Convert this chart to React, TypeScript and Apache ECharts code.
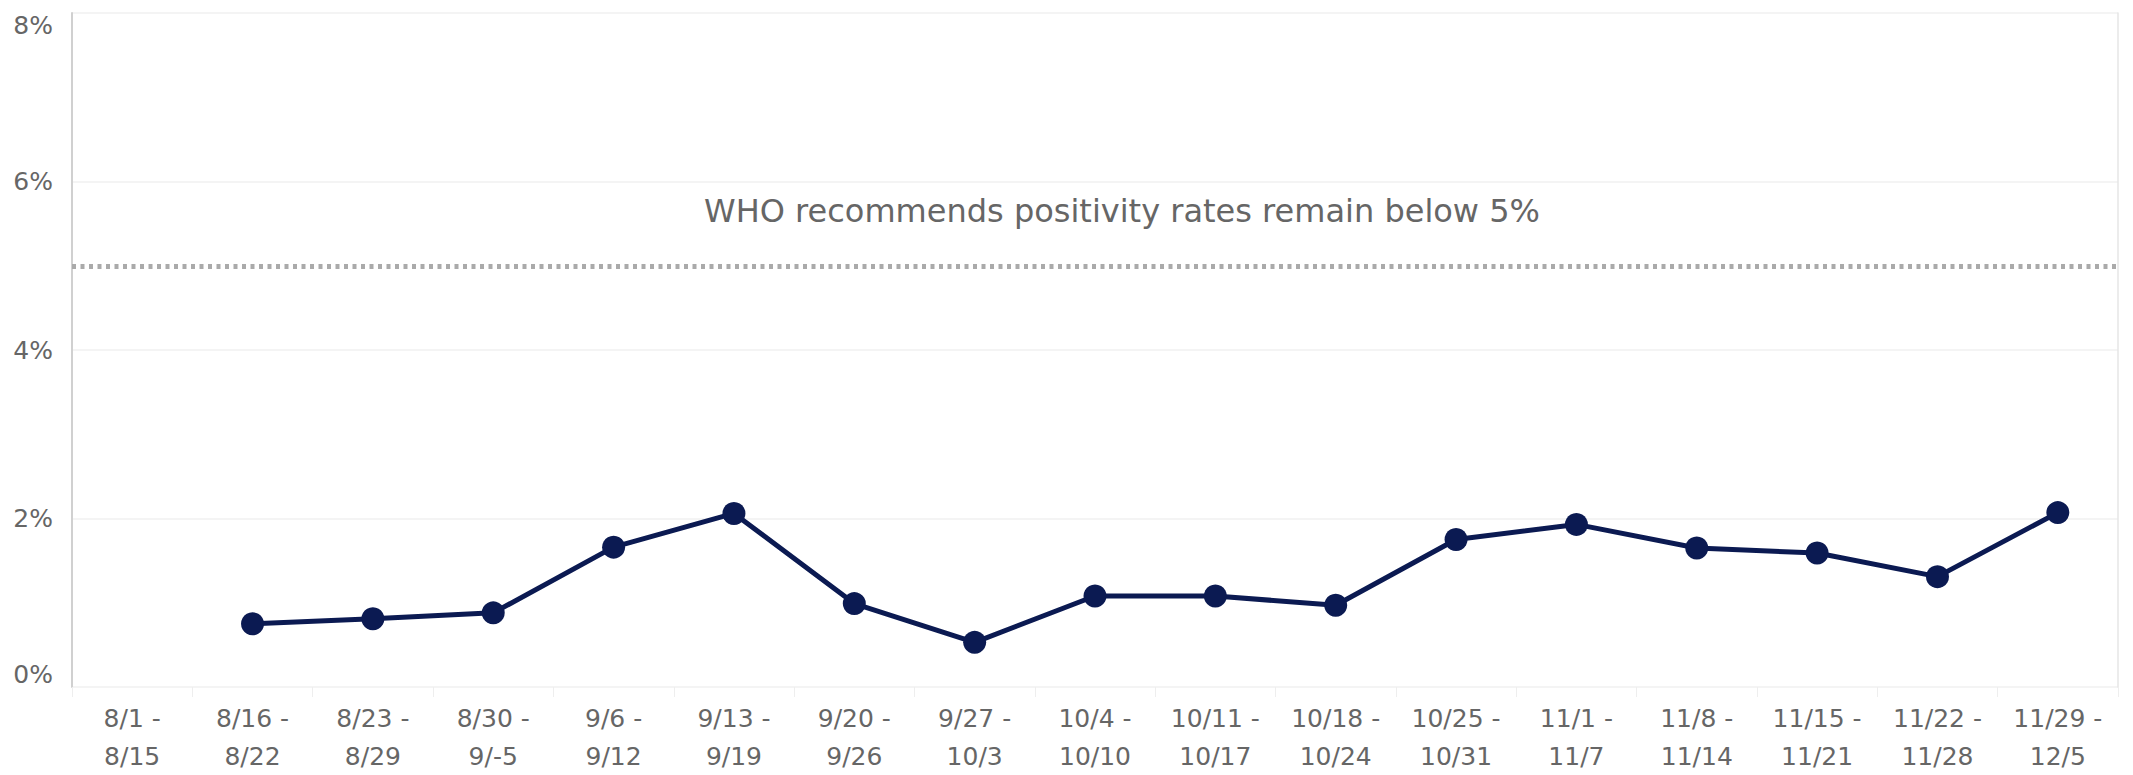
import React, { useEffect, useRef } from "react";
import * as echarts from "echarts";

const categories = [
  "8/1 -\n8/15", "8/16 -\n8/22", "8/23 -\n8/29", "8/30 -\n9/-5", "9/6 -\n9/12",
  "9/13 -\n9/19", "9/20 -\n9/26", "9/27 -\n10/3", "10/4 -\n10/10", "10/11 -\n10/17",
  "10/18 -\n10/24", "10/25 -\n10/31", "11/1 -\n11/7", "11/8 -\n11/14", "11/15 -\n11/21",
  "11/22 -\n11/28", "11/29 -\n12/5",
];
const positivity: (number | null)[] = [
  null, 0.75, 0.81, 0.88, 1.66, 2.06, 0.99, 0.53, 1.08, 1.08, 0.97, 1.75, 1.93, 1.65, 1.59, 1.31, 2.07,
];
const whoThreshold = 5;
const whoText = "WHO recommends positivity rates remain below 5%";

export default function App() {
  const ref = useRef<HTMLDivElement>(null);
  useEffect(() => {
    if (!ref.current) return;
    const chart = echarts.init(ref.current, null, { renderer: "svg" });
    chart.setOption({
      animation: false,
      backgroundColor: "#ffffff",
      textStyle: { fontFamily: "DejaVu Sans" },
      grid: { left: 72, right: 15, top: 13, bottom: 82 },
      xAxis: {
        type: "category",
        data: categories,
        boundaryGap: true,
        axisLine: { show: false },
        axisTick: { show: true, length: 10, lineStyle: { color: "#eeeeee", width: 1 } },
        axisLabel: {
          color: "#666666",
          fontSize: 25,
          lineHeight: 38,
          margin: 12,
          fontFamily: "DejaVu Sans",
        },
        splitLine: { show: false },
      },
      yAxis: [
        {
          type: "value",
          min: 0,
          max: 8,
          interval: 2,
          axisLine: { show: true, lineStyle: { color: "#d0d0d0", width: 2 } },
          axisTick: { show: false },
          axisLabel: {
            color: "#666666",
            fontSize: 25,
            margin: 19,
            formatter: "{value}%",
            fontFamily: "DejaVu Sans",
            verticalAlignMaxLabel: "top",
            verticalAlignMinLabel: "bottom",
          },
          splitLine: { show: true, lineStyle: { color: "#f0f0f0", width: 1.5 } },
        },
        {
          type: "value",
          min: 0,
          max: 8,
          interval: 2,
          position: "right",
          axisLine: { show: true, lineStyle: { color: "#e6e6e6", width: 1.5 } },
          axisTick: { show: false },
          axisLabel: { show: false },
          splitLine: { show: false },
        },
      ],
      series: [
        {
          type: "line",
          data: positivity,
          symbol: "circle",
          symbolSize: 23,
          connectNulls: false,
          lineStyle: { color: "#0b1a52", width: 5 },
          itemStyle: { color: "#0b1a52" },
          markLine: {
            silent: true,
            symbol: "none",
            label: { show: false },
            lineStyle: { color: "#aaaaaa", width: 5, type: [4, 4.5] },
            data: [{ yAxis: whoThreshold }],
          },
        },
      ],
      graphic: [
        {
          type: "text",
          x: 1122,
          y: 211,
          style: {
            text: whoText,
            fill: "#666666",
            fontSize: 32,
            fontFamily: "DejaVu Sans",
            align: "center",
            verticalAlign: "middle",
          },
        },
      ],
    });
    return () => chart.dispose();
  }, []);
  return (
    <div
      ref={ref}
      style={{ position: "fixed", left: 0, top: 0, width: 2133, height: 775 }}
    />
  );
}
